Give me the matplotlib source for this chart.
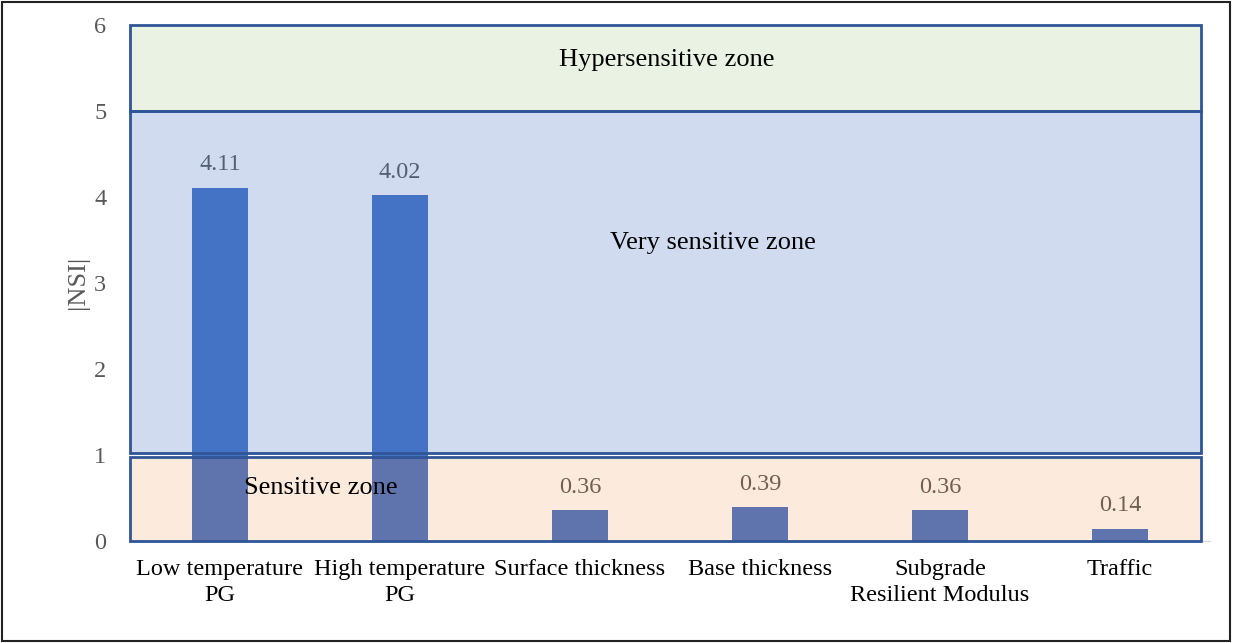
#!/usr/bin/env python

import matplotlib as mpl
mpl.use('Agg')
import matplotlib.pyplot as plt
from matplotlib.patches import Rectangle

# data
categories = ['Low temperature\nPG', 'High temperature\nPG', 'Surface thickness',
              'Base thickness', 'Subgrade\nResilient Modulus', 'Traffic']
nsi = [4.11, 4.02, 0.36, 0.39, 0.36, 0.14]
labels = ['4.11', '4.02', '0.36', '0.39', '0.36', '0.14']
yticks = [0, 1, 2, 3, 4, 5, 6]

# zones: (bottom, top, face rgba, text position)
zone_names = ['Hypersensitive zone', 'Very sensitive zone', 'Sensitive zone']
zone_lo = [5.0, 1.02, 0.0]
zone_hi = [6.0, 5.0, 0.98]
zone_face = [(0.439, 0.678, 0.278, 0.15), (0.267, 0.447, 0.769, 0.25),
             (0.929, 0.490, 0.192, 0.16)]
zone_text_xy = [(2.48, 5.59), (2.74, 3.47), (0.56, 0.62)]

plt.rcParams['font.family'] = ['Liberation Serif', 'DejaVu Serif']

fig = plt.figure(figsize=(12.34, 6.43), dpi=100)
ax = fig.add_axes([0.1053, 0.1586, 0.8753, 0.8025])

x = list(range(len(categories)))
ax.bar(x, nsi, width=0.31, color='#4472C4', zorder=2)

for xi, v, lab in zip(x, nsi, labels):
  ax.annotate(lab, (xi, v), xytext=(0, 9), textcoords='offset points',
              ha='center', va='bottom', fontsize=17.5, color='#595959', zorder=3)

for name, lo, hi, fc, (tx, ty) in zip(zone_names, zone_lo, zone_hi,
                                      zone_face, zone_text_xy):
  r = Rectangle((-0.5, lo), 5.95, hi - lo, facecolor=fc, edgecolor='#2F5597',
                linewidth=2.0, zorder=4, clip_on=False)
  ax.add_patch(r)
  ax.text(tx, ty, name, ha='center', va='center', fontsize=19,
          color='black', zorder=5)

ax.set_xlim(-0.5, 5.5)
ax.set_ylim(0, 6)
ax.set_yticks(yticks)
ax.set_xticks(x)
ax.set_xticklabels(categories, fontsize=17.5, color='black', linespacing=1.3)
ax.tick_params(axis='x', length=0, pad=13)
ax.tick_params(axis='y', length=0, pad=17, labelsize=17.5, labelcolor='#595959')

for s in ['top', 'right', 'left']:
  ax.spines[s].set_visible(False)
ax.spines['bottom'].set_color('#D9D9D9')
ax.spines['bottom'].set_linewidth(1.0)

ax.text(-0.048, 0.502, '|NSI|', transform=ax.transAxes, rotation=90,
        ha='center', va='center', fontsize=19, color='#595959')

fig.patches.append(Rectangle((0.002, 0.003), 0.995, 0.994, transform=fig.transFigure,
                             fill=False, edgecolor='#222222', linewidth=1.5))

plt.savefig('out.png', dpi=100)
